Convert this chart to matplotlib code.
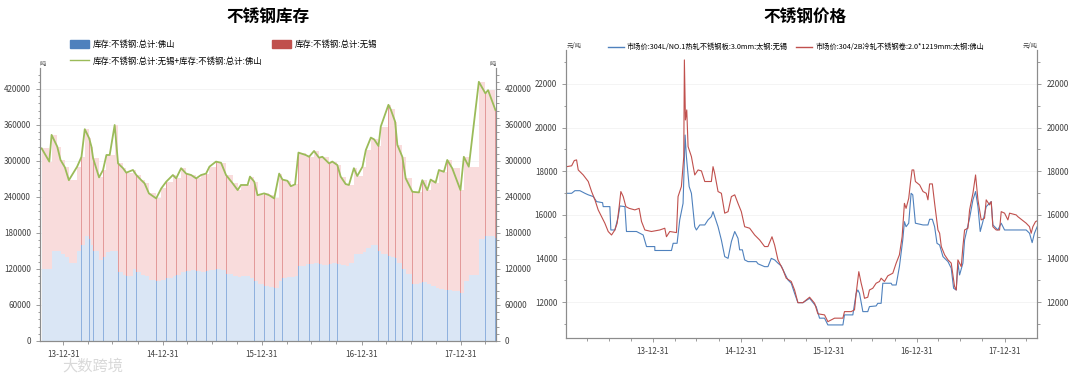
import datetime as dt
import matplotlib
matplotlib.use('Agg')
import matplotlib.pyplot as plt
import matplotlib.dates as mdates
from matplotlib.patches import Patch
from matplotlib.lines import Line2D
from matplotlib.ticker import MultipleLocator, FixedLocator
import pandas as pd

plt.rcParams['font.family'] = ['Noto Sans CJK SC', 'DejaVu Sans']

# ---- 库存 (decimal year, 吨) ----
stock_years = [
    2013.780, 2013.857, 2013.880, 2013.937, 2013.970, 2014.014, 2014.054, 2014.137, 2014.181, 2014.214,
    2014.258, 2014.281, 2014.298, 2014.358, 2014.398, 2014.432, 2014.465, 2014.515, 2014.549, 2014.599,
    2014.632, 2014.699, 2014.733, 2014.783, 2014.816, 2014.860, 2014.933, 2014.984, 2015.034, 2015.101,
    2015.134, 2015.184, 2015.234, 2015.285, 2015.335, 2015.385, 2015.435, 2015.469, 2015.535, 2015.586,
    2015.636, 2015.703, 2015.753, 2015.786, 2015.853, 2015.877, 2015.920, 2015.953, 2016.020,
    2016.071, 2016.121, 2016.171, 2016.204, 2016.254, 2016.288, 2016.331, 2016.365, 2016.438, 2016.472,
    2016.522, 2016.572, 2016.606, 2016.673, 2016.706, 2016.756, 2016.790, 2016.840, 2016.873, 2016.923,
    2016.957, 2017.007, 2017.040, 2017.091, 2017.124, 2017.168, 2017.191, 2017.268, 2017.291, 2017.335,
    2017.358, 2017.408, 2017.442, 2017.509, 2017.575, 2017.609, 2017.659, 2017.693, 2017.743, 2017.776,
    2017.826, 2017.860, 2017.910, 2017.993, 2018.027, 2018.077, 2018.178, 2018.244, 2018.271, 2018.345,
]
stock_total = [
    321000, 299000, 343500, 324000, 301700, 289400, 268000, 290500, 307000, 353000,
    338000, 324000, 304500, 272700, 285000, 310000, 310000, 360000, 296000, 288000,
    280500, 285000, 276600, 268000, 262700, 246000, 237600, 254300, 265500, 276600,
    271000, 288000, 279000, 276600, 271000, 276600, 279000, 290500, 299000, 297000,
    276600, 262700, 251500, 260000, 260000, 274000, 265500, 243000, 246000,
    243000, 237600, 279000, 269000, 267000, 258000, 261000, 314000, 310000, 307000,
    316700, 305500, 307000, 296000, 299000, 293300, 274000, 261600, 260000, 288000,
    275000, 290500, 318000, 339000, 336000, 325000, 357400, 393600, 386000, 365700,
    326700, 307000, 271000, 248700, 247600, 268000, 251500, 269000, 263800, 285000,
    282000, 301700, 288000, 251500, 307000, 290500, 432000, 412700, 418000, 385000,
]
stock_foshan = [
    120000, 120000, 150000, 150000, 145000, 140000, 130000, 150000, 160000, 175000,
    170000, 160000, 150000, 135000, 140000, 148000, 150000, 150000, 115000, 110000,
    108000, 120000, 115000, 110000, 108000, 102000, 100000, 102000, 105000, 108000,
    110000, 115000, 117000, 118000, 116000, 115000, 117000, 118000, 120000, 118000,
    112000, 108000, 106000, 108000, 108000, 105000, 100000, 95000, 92000,
    90000, 88000, 100000, 105000, 106000, 106000, 108000, 125000, 128000, 128000,
    130000, 128000, 126000, 128000, 130000, 128000, 126000, 125000, 130000, 145000,
    145000, 148000, 155000, 160000, 160000, 150000, 145000, 142000, 140000, 138000,
    130000, 120000, 112000, 95000, 96000, 98000, 95000, 92000, 88000, 86000,
    85000, 85000, 84000, 80000, 100000, 110000, 170000, 175000, 175000, 172000,
]

# ---- 价格 (decimal year, 元/吨) ----
wuxi_years = [
    2013.016, 2013.073, 2013.110, 2013.167, 2013.224, 2013.262, 2013.319, 2013.357, 2013.425, 2013.432,
    2013.508, 2013.519, 2013.565, 2013.603, 2013.622, 2013.679, 2013.697, 2013.811, 2013.887, 2013.925,
    2014.019, 2014.020, 2014.209, 2014.228, 2014.273, 2014.303, 2014.341, 2014.364, 2014.379, 2014.410,
    2014.436, 2014.474, 2014.493, 2014.531, 2014.588, 2014.625, 2014.663, 2014.682, 2014.701, 2014.739,
    2014.777, 2014.815, 2014.853, 2014.891, 2014.929, 2014.966, 2014.985, 2015.016, 2015.042, 2015.080,
    2015.175, 2015.194, 2015.269, 2015.307, 2015.345, 2015.383, 2015.421, 2015.459, 2015.497, 2015.535,
    2015.572, 2015.610, 2015.648, 2015.705,
    2015.781, 2015.856, 2015.894, 2015.951, 2015.989, 2016.160, 2016.178, 2016.273, 2016.311, 2016.330,
    2016.349, 2016.387, 2016.443, 2016.462, 2016.538, 2016.557, 2016.595, 2016.614, 2016.709, 2016.720,
    2016.766, 2016.803, 2016.841, 2016.860, 2016.879, 2016.909, 2016.936, 2016.955, 2016.985, 2017.069,
    2017.125, 2017.144, 2017.175, 2017.201, 2017.228, 2017.258, 2017.296, 2017.353, 2017.390, 2017.417,
    2017.447, 2017.466, 2017.485, 2017.523, 2017.542, 2017.599, 2017.637, 2017.667, 2017.694, 2017.720,
    2017.750, 2017.788, 2017.826, 2017.845, 2017.864, 2017.921, 2017.959, 2017.997, 2018.054, 2018.243,
    2018.281, 2018.311, 2018.337, 2018.368,
]
wuxi_price = [
    16990, 16990, 17110, 17110, 16990, 16920, 16840, 16610, 16560, 16380,
    16380, 15310, 15310, 15920, 16410, 16380, 15240, 15240, 15080, 14550,
    14550, 14370, 14370, 14700, 14700, 15770, 16530, 19660, 18670, 17300,
    16990, 15460, 15310, 15540, 15540, 15770, 15920, 16150, 15920, 15460,
    14850, 14090, 14010, 14780, 15240, 14930, 14400, 14400, 13940, 13860,
    13860, 13760, 13630, 13630, 14010, 13940, 13790, 13660, 13330, 13020,
    12870, 12410, 11980, 11980,
    12180, 11800, 11270, 11270, 10960, 10960, 11420, 11420, 12410, 12560,
    12410, 11570, 11570, 11800, 11830, 11950, 11950, 12870, 12870, 12790,
    12790, 13630, 14850, 15690, 15460, 15620, 16990, 16920, 15620, 15540,
    15540, 15800, 15800, 15460, 14700, 14620, 14090, 13860, 13560, 12640,
    12560, 13790, 13250, 13790, 14850, 15850, 16690, 17070, 16380, 15240,
    15690, 16380, 16530, 16610, 15540, 15310, 15620, 15310, 15310, 15310,
    15160, 14730, 15160, 15460,
]
foshan_years = [
    2013.016, 2013.073, 2013.103, 2013.129, 2013.148, 2013.205, 2013.262, 2013.300, 2013.338, 2013.375,
    2013.413, 2013.451, 2013.489, 2013.527, 2013.565, 2013.591, 2013.614, 2013.633, 2013.660, 2013.690,
    2013.728, 2013.792, 2013.841, 2013.868, 2013.906, 2013.981, 2014.076, 2014.133, 2014.152, 2014.190,
    2014.266, 2014.284, 2014.322, 2014.349, 2014.356, 2014.368, 2014.383, 2014.398, 2014.436, 2014.474,
    2014.512, 2014.550, 2014.588, 2014.663, 2014.682, 2014.701, 2014.739, 2014.777, 2014.815, 2014.853,
    2014.891, 2014.929, 2014.966, 2015.004, 2015.042, 2015.099, 2015.156, 2015.213, 2015.269, 2015.307,
    2015.353, 2015.383, 2015.421, 2015.478, 2015.515, 2015.572, 2015.610, 2015.648, 2015.705,
    2015.781, 2015.838, 2015.875, 2015.951, 2015.989, 2016.027, 2016.065, 2016.160, 2016.178, 2016.254,
    2016.292, 2016.311, 2016.341, 2016.368, 2016.387, 2016.406, 2016.443, 2016.462, 2016.500, 2016.538,
    2016.576, 2016.595, 2016.633, 2016.671, 2016.728, 2016.766, 2016.803, 2016.834, 2016.860, 2016.879,
    2016.909, 2016.928, 2016.947, 2016.966, 2016.985, 2017.031, 2017.069, 2017.106, 2017.125, 2017.144,
    2017.175, 2017.201, 2017.239, 2017.258, 2017.277, 2017.315, 2017.353, 2017.390, 2017.428, 2017.447,
    2017.466, 2017.504, 2017.523, 2017.542, 2017.580, 2017.599, 2017.637, 2017.667, 2017.694, 2017.731,
    2017.769, 2017.788, 2017.826, 2017.845, 2017.864, 2017.902, 2017.940, 2017.959, 2017.997, 2018.035,
    2018.054, 2018.129, 2018.148, 2018.243, 2018.281, 2018.300, 2018.319, 2018.349, 2018.368,
]
foshan_price = [
    18210, 18250, 18490, 18520, 18060, 17830, 17530, 17070, 16690, 16230,
    15920, 15620, 15240, 15080, 15310, 15620, 16380, 17070, 16840, 16380,
    16300, 16230, 16300, 15700, 15310, 15240, 15310, 15390, 15000, 15240,
    15190, 16840, 17300, 18670, 23100, 20350, 20810, 19130, 18670, 17830,
    18060, 18015, 17530, 17530, 18210, 17900, 17070, 16990, 16080, 16150,
    16840, 16920, 16530, 16150, 15460, 15390, 15080, 14850, 14550, 14550,
    15000, 14620, 13940, 13480, 13100, 12950, 12560, 11980, 11980,
    12230, 11950, 11470, 11420, 11110, 11190, 11270, 11270, 11570, 11570,
    11650, 12410, 13400, 12870, 12560, 12180, 12230, 12560, 12640, 12870,
    12950, 13100, 12950, 13210, 13330, 13790, 14170, 15000, 16530, 16300,
    16760, 17450, 18060, 18060, 17530, 17370, 17070, 16990, 16690, 17420,
    17420, 16530, 15310, 15160, 14550, 14170, 13940, 13790, 12720, 12560,
    13940, 13630, 14550, 15310, 15390, 16230, 16990, 17830, 16690, 15770,
    15850, 16690, 16460, 16610, 15460, 15310, 15310, 16150, 16080, 15770,
    16080, 16000, 15920, 15620, 15460, 15160, 15460, 15690, 15730,
]

stock_ticks = [0, 60000, 120000, 180000, 240000, 300000, 360000, 420000]
price_ticks = [12000, 14000, 16000, 18000, 20000, 22000]
tick_years = [2013, 2014, 2015, 2016, 2017]


def to_dates(years):
    out = []
    for y in years:
        base = dt.datetime(int(y), 1, 1)
        out.append(base + dt.timedelta(days=(y - int(y)) * 365))
    return out


def style_axes(ax, axr, ylim, yticks, yminor, xlim, unit):
    ax.set_xlim(to_dates(xlim))
    for a in (ax, axr):
        a.set_ylim(ylim)
        a.yaxis.set_major_locator(FixedLocator(yticks))
        a.yaxis.set_minor_locator(MultipleLocator(yminor))
        a.spines['top'].set_visible(False)
        for s in a.spines.values():
            s.set_color('#8c8c8c')
            s.set_linewidth(0.8)
        a.tick_params(which='both', colors='#8c8c8c', labelcolor='#404040',
                      labelsize=5.8, width=0.6)
        a.tick_params(which='major', length=3)
        a.tick_params(which='minor', length=1.8)
    ax.yaxis.grid(True, color='#f3f3f3', lw=0.6)
    ax.set_axisbelow(True)
    ax.xaxis.set_major_locator(FixedLocator(mdates.date2num(
        [dt.datetime(y, 12, 31) for y in tick_years])))
    ax.xaxis.set_minor_locator(FixedLocator(mdates.date2num(
        pd.date_range('2012-12-31', '2018-12-31', freq='QE').to_pydatetime())))
    ax.xaxis.set_major_formatter(mdates.DateFormatter('%y-%m-%d'))
    ax.tick_params(axis='x', labelsize=5.8)
    ax.text(0, 1.0, unit, transform=ax.transAxes, fontsize=4.5, color='#404040',
            ha='left', va='bottom')
    ax.text(1, 1.0, unit, transform=ax.transAxes, fontsize=4.5, color='#404040',
            ha='right', va='bottom')


fig = plt.figure(figsize=(10.8, 3.75), dpi=100)

# ---- 不锈钢库存 ----
ax1 = fig.add_axes([0.037, 0.0907, 0.422, 0.728])
ax1r = ax1.twinx()
d = to_dates(stock_years)
wuxi_stock = [t - f for t, f in zip(stock_total, stock_foshan)]
# each bar runs until the next observation
widths = [(b - a).days + (b - a).seconds / 86400 for a, b in zip(d[:-1], d[1:])]
widths.append(widths[-1])
ax1.bar(d, stock_foshan, width=widths, align='edge', color='#dae6f5', lw=0)
ax1.bar(d, wuxi_stock, bottom=stock_foshan, width=widths, align='edge', color='#f9dcdc', lw=0)
ax1.bar(d[::2], stock_foshan[::2], width=2.2, align='edge', color='#8fb1de', lw=0)
ax1.bar(d[::2], wuxi_stock[::2], bottom=stock_foshan[::2], width=2.2, align='edge',
        color='#e39a9a', lw=0)
ax1.plot(d, stock_total, color='#9bbb59', lw=1.3)
style_axes(ax1, ax1r, (0, 455000), stock_ticks, 12000, [2013.763, 2018.348], '吨')

ax1.legend(handles=[Patch(color='#4f81bd', label='库存:不锈钢:总计:佛山'),
                    Line2D([], [], color='#9bbb59', lw=1,
                           label='库存:不锈钢:总计:无锡+库存:不锈钢:总计:佛山'),
                    Patch(color='#c0504d', label='库存:不锈钢:总计:无锡')],
           ncol=2, loc='lower left', bbox_to_anchor=(0.058, 0.804),
           bbox_transform=fig.transFigure, frameon=False, fontsize=6,
           handlelength=2.3, handleheight=1.2, columnspacing=1.2,
           labelspacing=0.95, handletextpad=0.4)

fig.text(0.248, 0.955, '不锈钢库存', fontsize=12, fontweight='bold', ha='center', va='center')

# ---- 不锈钢价格 ----
ax2 = fig.add_axes([0.5245, 0.098, 0.436, 0.769])
ax2r = ax2.twinx()
ax2.plot(to_dates(wuxi_years), wuxi_price, color='#4f81bd', lw=0.8)
ax2.plot(to_dates(foshan_years), foshan_price, color='#c0504d', lw=0.8)
style_axes(ax2, ax2r, (10350, 23560), price_ticks, 1000, [2013.014, 2018.370], '元/吨')

ax2.legend(handles=[Line2D([], [], color='#4f81bd', lw=1,
                           label='市场价:304L/NO.1热轧不锈钢板:3.0mm:太钢:无锡'),
                    Line2D([], [], color='#c0504d', lw=1,
                           label='市场价:304/2B冷轧不锈钢卷:2.0*1219mm:太钢:佛山')],
           ncol=2, loc='center', bbox_to_anchor=(0.737, 0.874),
           bbox_transform=fig.transFigure, frameon=False, fontsize=5.2,
           handlelength=2.2, columnspacing=1.2, handletextpad=0.4)

fig.text(0.745, 0.955, '不锈钢价格', fontsize=12, fontweight='bold', ha='center', va='center')

fig.text(0.058, 0.025, '大数跨境', fontsize=11, color='#d9d9d9', ha='left', va='center', zorder=0)

fig.savefig('out.png', dpi=100)
